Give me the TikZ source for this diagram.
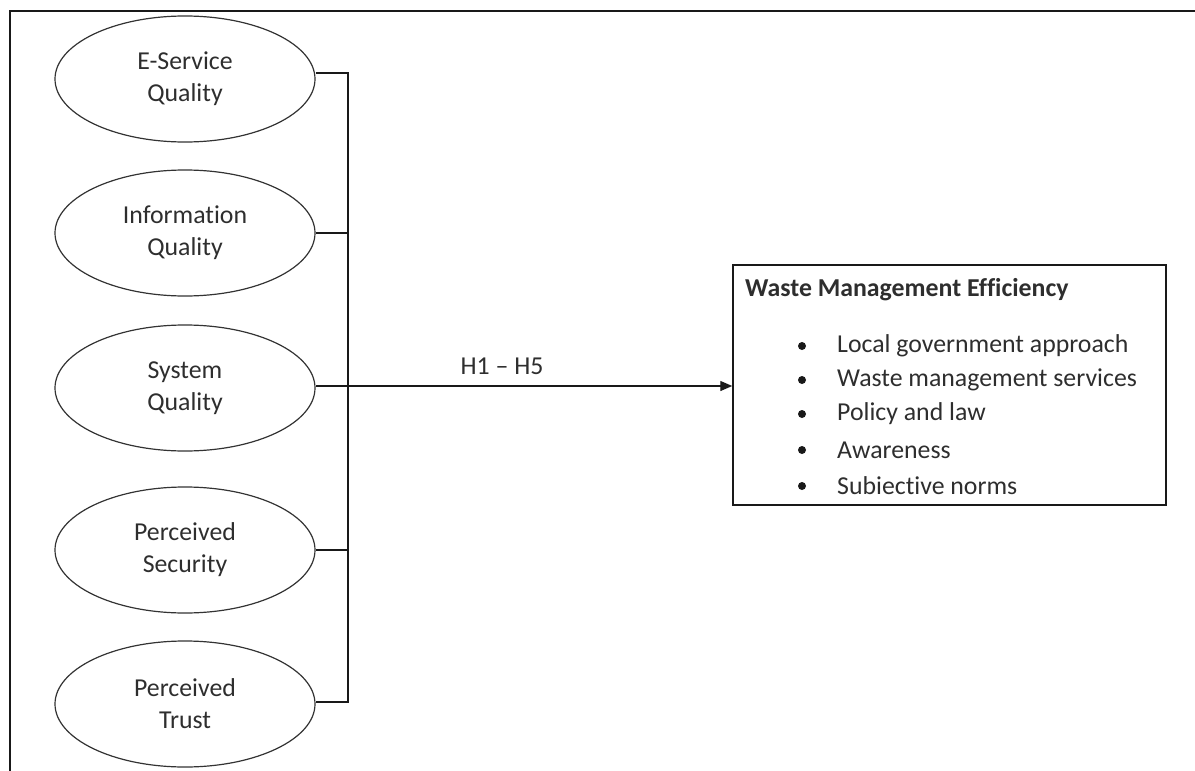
\documentclass[tikz,border=0pt]{standalone}
\usepackage{fontspec}
\setmainfont[Ligatures={NoCommon}]{Carlito}
\usetikzlibrary{shapes.geometric,arrows.meta}
\begin{document}
\begin{tikzpicture}[x=1pt,y=-1pt,
  txt/.style={text=black!82,font=\fontsize{25.8}{32}\selectfont},
  oval/.style={ellipse,draw=black!80,line width=1.2pt,minimum width=260pt,minimum height=126pt,inner sep=0pt,align=center,txt},
  conn/.style={line width=1.3pt,draw=black!90},
  itembullet/.style={circle,fill=black!90,inner sep=0pt,minimum size=8pt},
  item/.style={anchor=west,inner sep=0pt,txt}]
\useasboundingbox (0,0) rectangle (1195,771);
\draw[line width=1.8pt,black!90] (10,775) -- (10,11) -- (1199,11);
\node[oval] (e1) at (185,79) {E-Service\\Quality};
\node[oval] (e2) at (185,233) {Information\\Quality};
\node[oval] (e3) at (185,388) {System\\Quality};
\node[oval] (e4) at (185,550) {Perceived\\Security};
\node[oval] (e5) at (185,704) {Perceived\\Trust};
\coordinate (bt) at (348,73);
\coordinate (bb) at (348,702);
\coordinate (bm) at (348,386);
\draw[conn] (e1.east |- bt) -- (bt) -- (bb) -- (e5.east |- bb);
\draw[conn] (e2.east) -- (e2.east -| bt);
\draw[conn] (e3.east |- bm) -- (bm);
\draw[conn] (e4.east) -- (e4.east -| bt);
\node[draw=black!90,line width=1.5pt,minimum width=433pt,minimum height=240pt,inner sep=0pt] (box) at (949.5,385) {};
\draw[conn,-{Triangle[length=12pt,width=10pt]}] (bm) -- (box.west |- bm);
\node[txt,anchor=base] (lab) at (502,374) {H1 -- H5};
\node[item,font=\fontsize{25.8}{32}\selectfont\bfseries] (title) at (745,290) {Waste Management Efficiency};
\node[itembullet] (b1) at (802,346) {};
\node[item] (t1) at (837,346) {Local government approach};
\node[itembullet] (b2) at (802,380) {};
\node[item] (t2) at (837,380) {Waste management services};
\node[itembullet] (b3) at (802,414) {};
\node[item] (t3) at (837,414) {Policy and law};
\node[itembullet] (b4) at (802,450) {};
\node[item] (t4) at (837,450) {Awareness};
\node[itembullet] (b5) at (802,486) {};
\node[item] (t5) at (837,486) {Subiective norms};
\end{tikzpicture}
\end{document}
